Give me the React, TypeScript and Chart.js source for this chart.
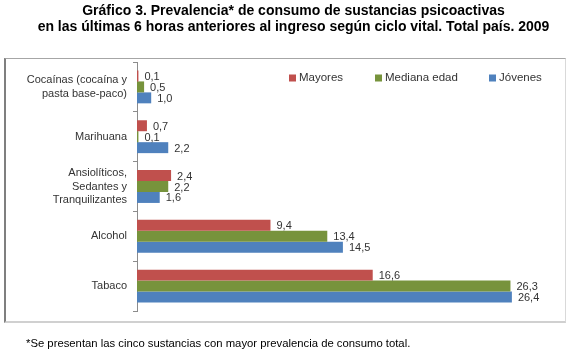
import React, { useEffect, useRef } from "react";
import { Chart, registerables } from "chart.js";

Chart.register(...registerables);

const categories: (string | string[])[] = [
  ["Cocaínas (cocaína y", "pasta base-paco)"],
  "Marihuana",
  ["Ansiolíticos,", "Sedantes y", "Tranquilizantes"],
  "Alcohol",
  "Tabaco",
];
const seriesNames = ["Mayores", "Mediana edad", "Jóvenes"];
const mayores = [0.1, 0.7, 2.4, 9.4, 16.6];
const medianaEdad = [0.5, 0.1, 2.2, 13.4, 26.3];
const jovenes = [1.0, 2.2, 1.6, 14.5, 26.4];
const seriesColors = ["#C0504D", "#77933C", "#4F81BD"];

const titleLine1 = "Gráfico 3. Prevalencia* de consumo de sustancias psicoactivas";
const titleLine2 = "en las últimas 6 horas anteriores al ingreso según ciclo vital. Total país. 2009";
const footnote = "*Se presentan las cinco sustancias con mayor prevalencia de consumo total.";

const FONT = "'Liberation Sans', Arial, sans-serif";

const valueLabels = {
  id: "valueLabels",
  afterDatasetsDraw(chart: any) {
    const ctx = chart.ctx;
    ctx.save();
    ctx.font = `11px ${FONT}`;
    ctx.fillStyle = "#333333";
    ctx.textAlign = "left";
    ctx.textBaseline = "middle";
    chart.data.datasets.forEach((ds: any, di: number) => {
      const meta = chart.getDatasetMeta(di);
      meta.data.forEach((el: any, i: number) => {
        const v = ds.data[i] as number;
        ctx.fillText(v.toFixed(1).replace(".", ","), el.x + 6, el.y + 1);
      });
    });
    ctx.restore();
  },
};

const customLegend = {
  id: "customLegend",
  afterDraw(chart: any) {
    const ctx = chart.ctx;
    const xs = [289, 375, 489];
    const y = 78;
    ctx.save();
    ctx.font = `11.5px ${FONT}`;
    ctx.textBaseline = "middle";
    ctx.textAlign = "left";
    chart.data.datasets.forEach((ds: any, i: number) => {
      ctx.fillStyle = ds.backgroundColor;
      ctx.fillRect(xs[i], y - 3.5, 7, 7);
      ctx.fillStyle = "#333333";
      ctx.fillText(ds.label, xs[i] + 10, y);
    });
    ctx.restore();
  },
};

export default function App() {
  const ref = useRef<HTMLCanvasElement | null>(null);

  useEffect(() => {
    if (!ref.current) return;
    const data = [mayores, medianaEdad, jovenes];
    const chart = new Chart(ref.current, {
      type: "bar",
      data: {
        labels: categories,
        datasets: seriesNames.map((name, i) => ({
          label: name,
          data: data[i],
          backgroundColor: seriesColors[i],
          borderWidth: 0,
          categoryPercentage: 0.66,
          barPercentage: 1,
        })),
      },
      options: {
        indexAxis: "y",
        responsive: false,
        animation: false,
        layout: { padding: { top: 62, bottom: 44, left: 0, right: 4 } },
        plugins: {
          legend: { display: false },
          tooltip: { enabled: false },
          title: { display: false },
        },
        scales: {
          x: {
            display: false,
            min: 0,
            max: 30,
          },
          y: {
            afterFit: (scale: any) => {
              scale.width = 137;
            },
            grid: {
              drawOnChartArea: false,
              drawTicks: true,
              tickLength: 4,
              color: "#8C8C8C",
            },
            border: { display: true, color: "#8C8C8C", width: 1 },
            ticks: {
              padding: 6,
              color: "#333333",
              font: { family: FONT, size: 11 },
              autoSkip: false,
            },
          },
        },
      },
      plugins: [valueLabels, customLegend],
    } as any);
    return () => chart.destroy();
  }, []);

  return (
    <div
      style={{
        position: "absolute",
        left: 0,
        top: 0,
        width: 567,
        height: 355,
        background: "#ffffff",
        overflow: "hidden",
        fontFamily: FONT,
      }}
    >
      <div
        style={{
          position: "absolute",
          left: 4,
          top: 58,
          width: 559,
          height: 262,
          borderLeft: "2px solid #7F7F7F",
          borderTop: "1px solid #A6A6A6",
          borderRight: "1px solid #D9D9D9",
          borderBottom: "2px solid #D0D0D0",
        }}
      />
      <canvas
        ref={ref}
        width={567}
        height={355}
        style={{ position: "absolute", left: 0, top: 0, width: 567, height: 355 }}
      />
      <div
        style={{
          position: "absolute",
          left: 0,
          top: 2,
          width: 567,
          fontSize: 14,
          fontWeight: "bold",
          lineHeight: "16px",
          color: "#000",
          textAlign: "center",
          whiteSpace: "nowrap",
        }}
      >
        <div style={{ paddingLeft: 20 }}>{titleLine1}</div>
        <div style={{ paddingLeft: 20 }}>{titleLine2}</div>
      </div>
      <div
        style={{
          position: "absolute",
          left: 26,
          top: 336,
          fontSize: 11.3,
          lineHeight: "14px",
          color: "#000",
          whiteSpace: "nowrap",
        }}
      >
        {footnote}
      </div>
    </div>
  );
}
